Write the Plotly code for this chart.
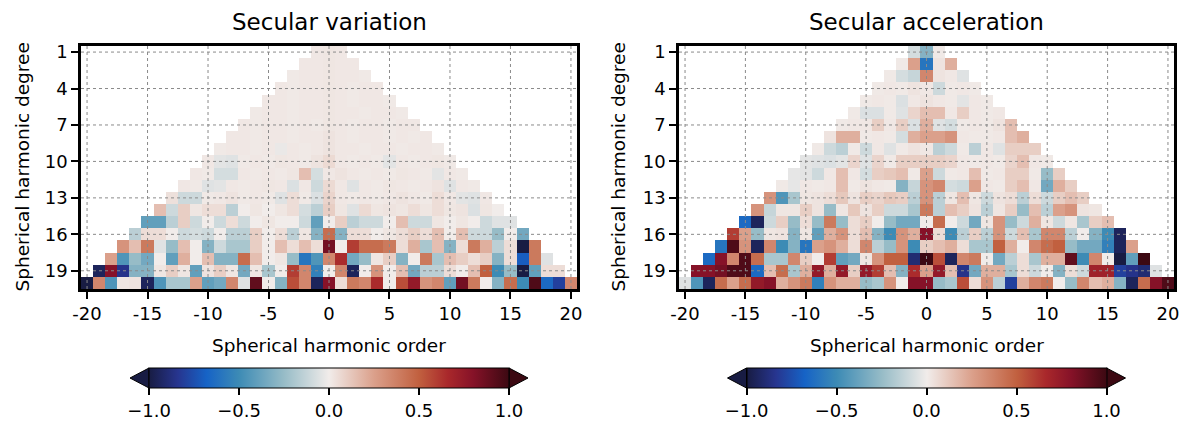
import plotly.graph_objects as go

W, H = 1181, 429
FONT = "DejaVu Sans"

ORDERS = list(range(-20, 21))
DEGREES = list(range(1, 21))
X_TICKS = [-20, -15, -10, -5, 0, 5, 10, 15, 20]
Y_TICKS = [1, 4, 7, 10, 13, 16, 19]
CB_TICKS = [-1.0, -0.5, 0.0, 0.5, 1.0]
CB_TEXT = ["\u22121.0", "\u22120.5", "0.0", "0.5", "1.0"]
TITLES = ["Secular variation", "Secular acceleration"]

# ---- Secular variation (rows: degree n, values for order -n..n)
SV_01 = [0.015, 0.02, 0.015]
SV_02 = [0.015, 0.015, 0.02, 0.015, 0.015]
SV_03 = [0.01, 0.015, 0.015, 0.02, 0.015, 0.015, 0.01]
SV_04 = [0.015, 0.01, 0.015, 0.015, 0.02, 0.015, 0.01, 0.015, 0.015]
SV_05 = [0.015, 0.015, 0.01, 0.015, 0.015, 0.02, 0.015, 0.01, 0.015, 0.015, 0.01]
SV_06 = [0.01, 0.015, 0.015, 0.01, 0.015, 0.015, 0.02, 0.015, 0.015, 0.01, 0.015, 0.015, 0.01]
SV_07 = [0.015, 0.01, 0.015, 0.015, 0.01, 0.015, 0.01, 0.02, 0.015, 0.01, 0.015, 0.015, 0.01, 0.015, 0.015]
SV_08 = [0.015, 0.015, 0.01, 0.015, 0.015, 0.01, 0.015, 0.015, 0.03, 0.015, 0.01, 0.015, 0.015, 0.01, 0.015, 0.01, 0.015]
SV_09 = [0.01, 0.015, 0.015, 0.01, 0.015, -0.02, 0.015, 0.01, 0.015, 0.03, 0.015, 0.015, 0.01, 0.015, 0.015, 0.01, 0.015, 0.015, 0.01]
SV_10 = [0.015, -0.04, -0.05, 0.01, 0.015, 0.01, 0.02, 0.015, 0.01, 0.03, 0.06, 0.015, 0.01, 0.015, 0.01, -0.04, 0.015, 0.01, 0.015, 0.02, 0.01]
SV_11 = [0.015, 0.01, -0.08, -0.08, 0.015, 0.01, 0.015, 0.01, 0.02, 0.15, -0.08, 0.015, 0.03, 0.015, 0.01, 0.015, 0.01, 0.02, 0.015, 0.01, -0.04, 0.015, 0.01]
SV_12 = [0.015, 0.01, -0.05, -0.04, 0.015, 0.01, 0.015, 0.02, 0.015, -0.06, 0.015, -0.1, 0.06, 0.015, -0.05, 0.015, 0.01, 0.02, 0.015, 0.01, 0.015, 0.03, -0.05, 0.015, 0.01]
SV_13 = [0.04, -0.1, -0.1, 0.01, 0.015, 0.03, 0.01, 0.015, 0.01, -0.05, 0.05, 0.01, -0.06, 0.08, 0.015, 0.01, 0.015, 0.01, 0.015, 0.03, 0.015, 0.01, 0.05, 0.015, -0.04, -0.05, 0.015]
SV_14 = [0.15, -0.1, 0.1, 0.02, 0.05, 0.05, -0.15, 0.0, 0.02, 0.0, 0.02, 0.05, -0.08, -0.15, 0.1, 0.02, -0.05, 0.06, 0.02, 0.03, 0.02, 0.05, 0.02, 0.05, 0.02, 0.03, -0.06, 0.02, 0.0]
SV_15 = [-0.4, -0.4, -0.15, 0.1, -0.1, 0.0, -0.1, 0.05, -0.1, 0.0, 0.02, 0.0, 0.0, -0.1, -0.4, 0.0, 0.1, -0.15, -0.1, -0.1, 0.0, 0.15, -0.1, -0.1, 0.02, 0.0, 0.02, 0.0, -0.1, -0.05, -0.05]
SV_16 = [-0.15, 0.05, 0.05, 0.0, -0.1, -0.08, -0.1, 0.0, -0.15, -0.15, 0.1, 0.0, 0.05, -0.15, 0.02, -0.3, 0.45, -0.3, 0.05, 0.05, 0.0, 0.02, 0.05, 0.1, 0.05, 0.15, 0.0, 0.15, -0.1, -0.1, -0.25, 0.0, -0.35]
SV_17 = [0.3, 0.15, 0.4, -0.05, -0.25, 0.15, 0.0, -0.3, -0.1, -0.2, -0.2, 0.1, 0.0, 0.15, 0.05, 0.15, 0.05, 0.85, 0.0, 0.6, 0.45, 0.45, 0.4, 0.05, 0.2, -0.2, 0.15, -0.3, 0.05, 0.4, 0.2, -0.15, 0.05, -1.0, 0.4]
SV_18 = [0.25, -0.45, -0.25, -0.35, 0.0, -0.4, 0.2, 0.0, 0.15, -0.3, -0.3, 0.45, 0.15, 0.0, 0.02, -0.25, -0.6, -0.45, 0.35, 0.65, -0.35, -0.25, 0.02, 0.1, -0.3, 0.0, 0.4, -0.2, 0.15, 0.1, 0.05, 0.1, -0.3, 0.05, -0.7, 0.4, -0.05]
SV_19 = [-0.95, 0.8, -0.85, -0.3, -0.3, 0.02, 0.1, 0.02, -0.4, 0.03, 0.1, 0.02, -0.35, 0.02, -0.2, 0.0, 0.6, 0.35, -0.55, 0.0, 0.35, -0.95, 0.0, 0.3, 0.0, 0.15, -0.35, -0.15, -0.15, 0.05, 0.0, 0.15, 0.5, -0.5, -0.25, -1.0, -0.4, 0.05, 0.05]
SV_20 = [-1.0, 0.35, -0.45, 0.02, 0.03, -0.95, -0.45, -0.2, -0.2, 0.25, -0.4, -0.35, 0.35, -0.05, 0.9, 0.0, -0.3, 0.55, 0.35, -0.95, 0.8, 0.05, 0.4, 0.35, 0.65, 0.0, 0.55, 0.75, 0.3, 0.35, -0.4, 0.85, 0.4, 0.0, -0.3, 0.45, -0.5, 0.95, -0.65, -0.8, 0.35]

# ---- Secular acceleration
SA_01 = [-0.08, -0.3, 0.01]
SA_02 = [0.01, 0.25, -0.6, 0.03, 0.2]
SA_03 = [0.01, -0.08, -0.12, 0.35, 0.03, 0.015, -0.05]
SA_04 = [0.01, 0.015, 0.01, 0.03, 0.015, -0.1, 0.01, 0.015, 0.01]
SA_05 = [0.01, 0.015, 0.01, -0.06, 0.015, 0.03, 0.015, 0.01, -0.04, 0.015, 0.01]
SA_06 = [0.01, -0.06, -0.06, 0.01, -0.05, 0.08, 0.15, 0.15, 0.015, 0.1, 0.015, 0.01, 0.015]
SA_07 = [0.01, 0.015, 0.015, 0.1, 0.015, 0.1, -0.06, 0.2, -0.05, -0.08, 0.01, 0.015, 0.01, 0.03, 0.15]
SA_08 = [0.03, 0.2, 0.2, 0.01, 0.015, 0.01, -0.08, 0.2, 0.25, 0.25, 0.3, 0.015, 0.01, 0.01, 0.015, 0.15, 0.2]
SA_09 = [0.01, -0.1, -0.15, 0.01, -0.1, 0.015, -0.05, 0.01, 0.03, 0.015, -0.15, -0.1, 0.01, -0.15, 0.015, -0.05, 0.1, 0.1, 0.1]
SA_10 = [-0.04, -0.05, -0.06, -0.04, 0.08, -0.05, 0.08, 0.01, 0.1, 0.1, 0.1, 0.1, 0.08, 0.015, 0.01, 0.015, 0.01, 0.08, 0.15, 0.015, 0.01]
SA_11 = [-0.03, -0.04, -0.1, 0.015, 0.15, 0.015, -0.08, 0.1, 0.12, 0.15, 0.01, 0.25, -0.1, 0.01, 0.015, 0.15, 0.01, 0.015, 0.1, 0.1, 0.01, -0.25, 0.1]
SA_12 = [0.01, -0.03, 0.015, 0.01, 0.015, 0.15, 0.01, 0.03, 0.015, 0.01, -0.3, -0.12, 0.3, 0.35, -0.08, -0.1, 0.25, 0.015, 0.01, 0.1, 0.15, 0.015, -0.35, 0.2, 0.1]
SA_13 = [0.3, -0.45, -0.2, 0.02, 0.03, 0.05, 0.12, 0.03, 0.1, 0.08, 0.12, 0.1, -0.15, 0.3, -0.15, 0.02, 0.15, 0.02, -0.1, 0.03, 0.05, -0.15, 0.05, -0.1, 0.1, 0.15, 0.1]
SA_14 = [0.3, -0.12, 0.02, 0.02, 0.1, 0.03, -0.25, 0.02, 0.12, 0.03, 0.1, -0.1, -0.1, -0.2, 0.4, -0.15, 0.15, 0.1, 0.03, -0.15, 0.02, 0.1, -0.25, 0.15, -0.15, 0.25, 0.3, 0.03, 0.02]
SA_15 = [-0.65, -0.95, -0.1, 0.1, -0.25, 0.05, -0.25, 0.4, -0.25, 0.05, 0.1, 0.0, -0.25, -0.35, -0.35, 0.0, 0.45, 0.0, -0.1, -0.35, 0.02, 0.3, -0.25, -0.1, 0.2, 0.02, -0.1, 0.02, -0.2, 0.1, 0.15]
SA_16 = [0.6, 0.25, -0.25, 0.02, 0.03, -0.3, 0.02, -0.4, 0.2, 0.3, 0.05, 0.15, -0.3, -0.5, 0.3, 0.2, 0.8, 0.05, -0.5, -0.15, 0.1, -0.15, 0.3, -0.1, 0.15, -0.2, 0.35, 0.35, -0.15, 0.0, -0.3, -0.5, -0.95]
SA_17 = [-0.6, 0.95, 0.3, -0.95, 0.35, -0.5, -0.3, -0.6, 0.25, 0.3, 0.2, 0.05, 0.35, -0.15, -0.25, 0.3, -0.5, 0.1, 0.15, 0.2, 0.05, -0.2, -0.2, 0.5, 0.2, 0.0, 0.35, 0.45, 0.5, -0.25, -0.35, -0.35, -0.55, -0.95, 0.25]
SA_18 = [-0.65, 0.8, 0.35, 0.95, 0.45, -0.2, -0.2, 0.35, 0.1, 0.0, 0.6, -0.4, -0.35, 0.02, 0.3, 0.5, 0.5, -0.9, 1.0, 0.55, -0.95, 0.35, 0.4, 0.0, -0.35, -0.15, 0.05, -0.2, 0.2, 0.2, 0.9, -0.5, 0.35, 0.0, -1.0, -0.4, 1.0]
SA_19 = [0.8, 0.8, 0.85, 0.95, 0.95, -0.65, 0.15, 0.45, -0.2, 0.2, 0.75, 0.2, 0.75, 0.1, 0.75, 0.6, 0.15, -0.3, 0.65, 0.25, 0.75, 0.15, -0.85, -0.35, 0.2, 0.2, -0.2, 0.05, -0.1, 0.0, -0.3, 0.05, -0.1, 0.7, 0.7, -0.8, -0.85, -0.9, -0.05]
SA_20 = [-0.05, -0.45, -0.95, 0.45, 0.25, 0.45, 0.75, 0.8, 0.2, 0.3, 0.4, -0.55, 0.3, 0.2, 0.2, -0.25, -0.2, 0.3, 0.0, 0.8, 0.8, -0.25, -0.2, 0.55, 0.05, 0.3, -0.15, -0.8, 0.2, 0.35, 0.4, 0.0, -0.25, 0.35, 0.15, 0.2, -0.3, -0.95, 0.45, 0.8, 0.95]

SV_ROWS = [SV_01, SV_02, SV_03, SV_04, SV_05, SV_06, SV_07, SV_08, SV_09, SV_10,
           SV_11, SV_12, SV_13, SV_14, SV_15, SV_16, SV_17, SV_18, SV_19, SV_20]
SA_ROWS = [SA_01, SA_02, SA_03, SA_04, SA_05, SA_06, SA_07, SA_08, SA_09, SA_10,
           SA_11, SA_12, SA_13, SA_14, SA_15, SA_16, SA_17, SA_18, SA_19, SA_20]

# cmocean "balance"-like colormap
COLORSCALE = [
    [0.00, "#181c43"], [0.08, "#27358f"], [0.16, "#1663c6"], [0.25, "#3d8bb5"],
    [0.375, "#97bcc7"], [0.50, "#f1ecea"], [0.625, "#dba08b"], [0.75, "#c1603f"],
    [0.83, "#a9282b"], [0.90, "#861228"], [1.00, "#3c0912"],
]


def build_grid(rows):
    grid = []
    for n, row in zip(DEGREES, rows):
        line = [None] * len(ORDERS)
        for i, v in enumerate(row[:2 * n + 1]):
            line[i - n + 20] = v
        grid.append(line)
    return grid


def px(x):
    return x / W


def py(y):
    return 1 - y / H


PANELS = [
    dict(x0=81, x1=577, cx=329, xa="x", ya="y", rows=SV_ROWS, ylab_x=22),
    dict(x0=679, x1=1174, cx=926.5, xa="x2", ya="y2", rows=SA_ROWS, ylab_x=618),
]
TOP, BOT = 46, 289
CB_TOP, CB_THICK, CB_LEN, ARROW = 368, 20, 360, 19
TICK_FS, LAB_FS, TITLE_FS = 18, 18.5, 23

fig = go.Figure()
shapes, annotations = [], []
layout = dict(
    width=W, height=H, paper_bgcolor="white", plot_bgcolor="white",
    margin=dict(l=0, r=0, t=0, b=0, autoexpand=False),
    font=dict(family=FONT, size=TICK_FS, color="black"),
    showlegend=False,
)

for k, p in enumerate(PANELS):
    sfx = "" if k == 0 else str(k + 1)
    fig.add_trace(go.Heatmap(
        x=ORDERS, y=DEGREES, z=build_grid(p["rows"]),
        colorscale=COLORSCALE, zmin=-1, zmax=1, xaxis=p["xa"], yaxis=p["ya"],
        hoverongaps=False, xgap=0, ygap=0,
        colorbar=dict(
            orientation="h", x=px(p["cx"]), xanchor="center",
            y=py(CB_TOP), yanchor="top", thickness=CB_THICK,
            len=CB_LEN, lenmode="pixels", xpad=0, ypad=0,
            outlinewidth=1, outlinecolor="black",
            tickmode="array", tickvals=CB_TICKS, ticktext=CB_TEXT,
            ticks="outside", ticklen=7, tickwidth=2, tickcolor="black",
            tickfont=dict(family=FONT, size=TICK_FS, color="black"),
        ),
    ))
    layout["xaxis" + sfx] = dict(
        domain=[px(p["x0"]), px(p["x1"])], range=[-20.5, 20.5],
        anchor=p["ya"], tickmode="array", tickvals=X_TICKS,
        ticktext=[str(v) for v in X_TICKS],
        ticks="outside", ticklen=7, tickwidth=2, tickcolor="black",
        showline=True, mirror=True, linewidth=2.5, linecolor="black",
        showgrid=False, zeroline=False, tickfont=dict(size=TICK_FS),
    )
    layout["yaxis" + sfx] = dict(
        domain=[py(BOT), py(TOP)], range=[20.5, 0.5],
        anchor=p["xa"], tickmode="array", tickvals=Y_TICKS,
        ticks="outside", ticklen=7, tickwidth=2, tickcolor="black",
        showline=True, mirror=True, linewidth=2.5, linecolor="black",
        showgrid=False, zeroline=False, tickfont=dict(size=TICK_FS),
    )
    # dotted grid on top of the cells
    for v in X_TICKS:
        shapes.append(dict(type="line", xref=p["xa"], yref=p["ya"] + " domain",
                           x0=v, x1=v, y0=0, y1=1, layer="above",
                           line=dict(color="#8a8a8a", width=1, dash="dot")))
    for v in Y_TICKS:
        shapes.append(dict(type="line", xref=p["xa"] + " domain", yref=p["ya"],
                           x0=0, x1=1, y0=v, y1=v, layer="above",
                           line=dict(color="#8a8a8a", width=1, dash="dot")))
    # colorbar extension triangles
    l = p["cx"] - CB_LEN / 2
    r = p["cx"] + CB_LEN / 2
    t, b, m = CB_TOP, CB_TOP + CB_THICK, CB_TOP + CB_THICK / 2
    shapes.append(dict(type="path", xref="paper", yref="paper", layer="above",
                       path=f"M {px(l)} {py(t)} L {px(l - ARROW)} {py(m)} L {px(l)} {py(b)} Z",
                       fillcolor=COLORSCALE[0][1], line=dict(color="black", width=1)))
    shapes.append(dict(type="path", xref="paper", yref="paper", layer="above",
                       path=f"M {px(r)} {py(t)} L {px(r + ARROW)} {py(m)} L {px(r)} {py(b)} Z",
                       fillcolor=COLORSCALE[-1][1], line=dict(color="black", width=1)))
    annotations.append(dict(text=TITLES[k], xref="paper", yref="paper",
                            x=px(p["cx"]), y=py(22), xanchor="center", yanchor="middle",
                            showarrow=False, font=dict(size=TITLE_FS, family=FONT)))
    annotations.append(dict(text="Spherical harmonic order", xref="paper", yref="paper",
                            x=px(p["cx"]), y=py(345), xanchor="center", yanchor="middle",
                            showarrow=False, font=dict(size=LAB_FS, family=FONT)))
    annotations.append(dict(text="Spherical harmonic degree", xref="paper", yref="paper",
                            x=px(p["ylab_x"]), y=py((TOP + BOT) / 2), xanchor="center",
                            yanchor="middle", textangle=-90, showarrow=False,
                            font=dict(size=LAB_FS, family=FONT)))

layout["shapes"] = shapes
layout["annotations"] = annotations
fig.update_layout(**layout)
fig.write_html("out.html", config={"displayModeBar": False},
               post_script="document.body.style.margin='0px';document.body.style.padding='0px';")
